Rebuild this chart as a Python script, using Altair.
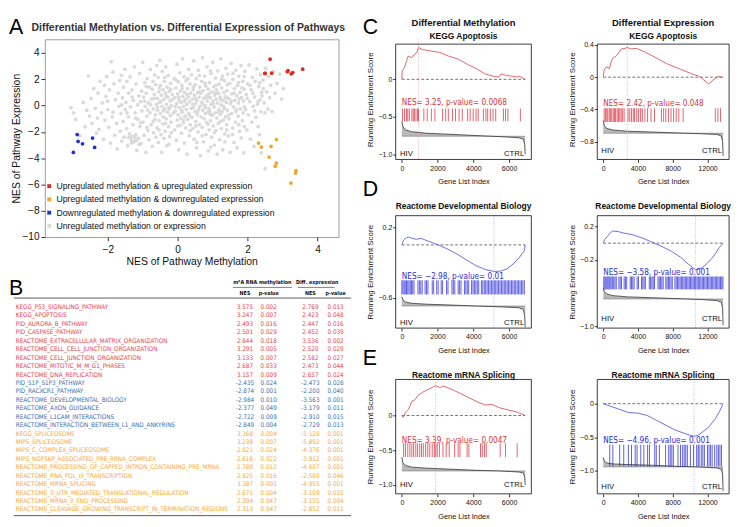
import altair as alt
import pandas as pd

FONT = "Liberation Sans"
NARROW = "Liberation Sans Narrow, DejaVu Sans Condensed, Liberation Sans"

# ---------------- Table (panel B) data ----------------
pathways = [
    "KEGG_P53_SIGNALING_PATHWAY", "KEGG_APOPTOSIS", "PID_AURORA_B_PATHWAY", "PID_CASPASE_PATHWAY",
    "REACTOME_EXTRACELLULAR_MATRIX_ORGANIZATION", "REACTOME_CELL_CELL_JUNCTION_ORGANIZATION",
    "REACTOME_CELL_JUNCTION_ORGANIZATION", "REACTOME_MITOTIC_M_M_G1_PHASES", "REACTOME_DNA_REPLICATION",
    "PID_S1P_S1P3_PATHWAY", "PID_RACXCR1_PATHWAY", "REACTOME_DEVELOPMENTAL_BIOLOGY", "REACTOME_AXON_GUIDANCE",
    "REACTOME_L1CAM_INTERACTIONS", "REACTOME_INTERACTION_BETWEEN_L1_AND_ANKYRINS",
    "KEGG_SPLICEOSOME", "MIPS_SPLICEOSOME", "MIPS_C_COMPLEX_SPLICEOSOME", "MIPS_NOP56P_ASSOCIATED_PRE_RRNA_COMPLEX",
    "REACTOME_PROCESSING_OF_CAPPED_INTRON_CONTAINING_PRE_MRNA", "REACTOME_RNA_POL_III_TRANSCRIPTION",
    "REACTOME_MRNA_SPLICING", "REACTOME_3_UTR_MEDIATED_TRANSLATIONAL_REGULATION", "REACTOME_MRNA_3_END_PROCESSING",
    "REACTOME_CLEAVAGE_GROWING_TRANSCRIPT_IN_TERMINATION_REGIONS",
]
meth_nes = [3.575, 3.247, 2.493, 2.501, 2.644, 3.291, 3.133, 2.687, 3.157,
            -2.435, -2.874, -2.984, -2.377, -2.722, -2.849,
            3.368, 3.238, 2.821, 2.616, 2.789, 2.825, 3.387, 2.671, 2.394, 2.313]
meth_p = [0.002, 0.007, 0.016, 0.029, 0.018, 0.005, 0.007, 0.033, 0.009,
          0.024, 0.001, 0.010, 0.049, 0.009, 0.004,
          0.004, 0.007, 0.024, 0.022, 0.012, 0.016, 0.005, 0.004, 0.047, 0.047]
expr_nes = [2.769, 2.423, 2.447, 2.452, 3.536, 2.520, 2.582, 2.473, 2.657,
            -2.473, -2.200, -3.563, -3.179, -2.910, -2.729,
            -5.120, -5.892, -4.376, -3.912, -4.607, -2.580, -4.955, -3.109, -3.155, -2.852]
expr_p = [0.013, 0.048, 0.016, 0.039, 0.002, 0.029, 0.027, 0.044, 0.024,
          0.028, 0.040, 0.001, 0.011, 0.015, 0.013,
          0.001, 0.001, 0.001, 0.001, 0.001, 0.046, 0.001, 0.015, 0.004, 0.011]
groups = ["up"] * 9 + ["down"] * 6 + ["mixed"] * 10

# ---------------- Scatter (panel A) gray cloud ----------------
gray_pts = [
    (-3.05, -0.15), (-2.98, -0.55), (-2.92, -1.05), (-2.80, -2.30), (-2.70, 0.25), (-2.65, -1.60),
    (-2.55, 2.25), (-2.52, -0.80), (-2.48, 0.55), (-2.45, -1.35), (-2.40, 1.30), (-2.36, -0.20), (-2.32, -2.10),
    (-2.28, 0.95), (-2.25, -1.80), (-2.22, 1.85), (-2.18, -0.55), (-2.15, 0.20), (-2.12, -2.55), (-2.10, 1.55),
    (-2.08, -1.10), (-2.05, 0.70), (-2.03, 2.20), (-2.00, -0.30), (-1.97, -1.65), (-1.95, 1.20), (-1.92, -2.85),
    (-1.90, 3.35), (-1.87, -0.85), (-1.85, 2.55), (-1.82, 1.65), (-1.80, -2.25), (-1.78, 0.45), (-1.75, -1.35),
    (-1.73, -3.30), (-1.70, 0.95), (-1.68, -0.05), (-1.66, 1.90), (-1.64, -1.95), (-1.62, -0.60), (-1.61, 2.30),
    (-1.60, -2.70), (-1.58, 0.60), (-1.56, -1.20), (-1.55, 1.40), (-1.53, -2.40), (-1.51, 2.75), (-1.50, -0.30),
    (-1.48, 0.25), (-1.46, -1.75), (-1.45, 1.85), (-1.43, -3.05), (-1.41, -0.85), (-1.40, 0.95), (-1.38, -2.15),
    (-1.36, 2.20), (-1.35, -0.10), (-1.33, -2.60), (-1.31, 1.20), (-1.30, -2.35), (-1.28, -1.45), (-1.27, 0.40),
    (-1.25, -2.75), (-1.24, 2.95), (-1.22, -0.55), (-1.20, -2.20), (-1.19, 1.65), (-1.17, -3.40), (-1.15, 0.05),
    (-1.14, -1.05), (-1.12, -2.50), (-1.11, 0.75), (-1.09, 2.45), (-1.08, -1.60), (-1.06, 0.30), (-1.05, -2.90),
    (-1.03, 1.10), (-1.02, -0.40), (-1.00, 3.30), (-0.99, -1.25), (-0.97, 0.65), (-0.96, -2.25), (-0.94, 1.75),
    (-0.93, -0.05), (-0.91, -3.55), (-0.90, 0.95), (-0.88, -0.80), (-0.87, 2.05), (-0.85, -1.90), (-0.84, 0.20),
    (-0.82, -2.60), (-0.81, 1.40), (-0.79, -0.55), (-0.78, 2.75), (-0.76, -1.45), (-0.75, 0.50), (-0.73, -3.10),
    (-0.72, 1.25), (-0.70, -0.25), (-0.69, -2.05), (-0.67, 0.85), (-0.66, 2.35), (-0.65, -1.05), (-0.64, -0.70),
    (-0.63, 1.60), (-0.62, -2.40), (-0.61, 0.10), (-0.60, 3.05), (-0.59, -1.70), (-0.58, 0.55), (-0.57, -0.35),
    (-0.56, 2.15), (-0.55, -2.80), (-0.54, 1.05), (-0.53, -1.15), (-0.52, 0.25), (-0.51, 3.45), (-0.50, -0.60),
    (-0.49, 1.55), (-0.48, -2.20), (-0.47, 0.80), (-0.46, -3.55), (-0.45, -0.05), (-0.44, 2.60), (-0.43, -1.40),
    (-0.42, 1.20), (-0.41, -0.85), (-0.40, 0.45), (-0.39, -2.50), (-0.38, 1.85), (-0.37, -0.25), (-0.36, -1.95),
    (-0.35, 0.95), (-0.34, 2.95), (-0.33, -1.00), (-0.32, 0.10), (-0.31, -3.05), (-0.30, 1.40), (-0.29, -0.50),
    (-0.28, 0.65), (-0.27, 2.30), (-0.26, -1.60), (-0.25, -0.15), (-0.24, 1.10), (-0.23, -2.35), (-0.22, 0.35),
    (-0.21, -0.75), (-0.20, 1.70), (-0.19, -1.25), (-0.18, 0.00), (-0.15, 0.85), (-0.12, -0.55), (-0.10, 2.05),
    (-0.09, -1.85), (-0.08, 0.60), (-0.07, -0.40), (-0.05, 1.35), (-0.04, -2.65), (-0.03, 0.15), (-0.02, 3.15),
    (-0.01, -1.10), (0.00, 0.90), (0.01, -0.70), (0.02, 1.80), (0.03, -3.35), (0.04, 0.40), (0.05, -0.15),
    (0.06, 2.50), (0.07, -1.50), (0.08, 1.10), (0.09, -0.95), (0.10, 0.25), (0.11, -2.10), (0.12, 1.55),
    (0.13, -0.50), (0.14, 3.55), (0.15, 0.70), (0.16, -1.30), (0.17, -0.05), (0.18, 2.20), (0.19, -2.85),
    (0.20, 1.00), (0.21, -0.80), (0.22, 0.45), (0.23, -1.70), (0.24, 1.90), (0.25, -0.30), (0.26, 0.10),
    (0.27, -3.70), (0.28, 1.30), (0.29, -1.05), (0.30, 0.65), (0.31, 2.75), (0.32, -0.60), (0.33, -2.30),
    (0.34, 0.30), (0.35, 1.65), (0.36, -1.45), (0.37, 0.95), (0.38, -0.20), (0.40, 2.35), (0.41, -0.90),
    (0.42, 0.50), (0.43, -1.75), (0.44, 1.20), (0.45, -0.15), (0.46, 3.40), (0.47, -2.55), (0.48, 0.80),
    (0.49, -0.45), (0.50, 1.60), (0.51, 0.15), (0.52, -1.20), (0.53, 2.05), (0.54, -3.20), (0.55, 0.40),
    (0.56, -0.70), (0.57, 1.00), (0.58, -2.00), (0.59, 2.70), (0.60, -0.25), (0.61, 0.65), (0.62, -1.45),
    (0.63, 1.40), (0.64, -0.05), (0.65, -3.80), (0.66, 0.95), (0.67, -0.85), (0.68, 1.85), (0.69, 0.25),
    (0.70, -1.65), (0.71, 3.65), (0.72, -0.35), (0.73, 1.15), (0.74, -2.75), (0.75, 0.55), (0.76, -1.00),
    (0.77, 2.25), (0.78, 0.00), (0.79, -0.60), (0.80, 1.50), (0.81, -2.20), (0.82, 0.75), (0.83, -1.30),
    (0.84, 2.95), (0.85, 0.35), (0.86, -0.50), (0.87, 1.25), (0.88, -3.45), (0.89, -0.20), (0.895, 0.90),
    (0.90, -1.85), (0.91, 1.75), (0.92, -0.40), (0.93, 0.60), (0.94, -1.15), (0.95, 2.45), (0.96, 0.10),
    (0.97, -2.40), (0.98, 1.05), (0.99, -0.75), (1.00, 3.30), (1.01, 0.35), (1.02, -1.55), (1.03, 1.45),
    (1.04, -0.10), (1.05, -3.00), (1.06, 0.80), (1.07, -0.55), (1.08, 2.10), (1.09, -1.90), (1.10, 0.50),
    (1.11, 1.20), (1.12, -0.95), (1.13, -3.70), (1.14, 0.20), (1.15, 2.65), (1.16, -1.35), (1.17, 0.95),
    (1.18, -0.30), (1.19, 1.65), (1.20, -2.60), (1.21, 0.65), (1.22, -0.65), (1.23, 3.55), (1.24, 0.05),
    (1.25, -1.75), (1.26, 1.35), (1.27, -0.45), (1.28, 2.25), (1.29, -3.35), (1.30, 0.40), (1.31, -1.10),
    (1.32, 1.00), (1.33, -0.20), (1.34, 1.90), (1.35, -2.15), (1.36, 0.70), (1.37, -0.85), (1.38, 2.85),
    (1.39, 0.25), (1.40, -1.45), (1.41, 1.15), (1.42, -0.35), (1.43, 2.40), (1.45, -2.30), (1.46, 0.55),
    (1.47, -1.00), (1.49, 1.70), (1.50, -3.55), (1.51, 0.15), (1.53, 3.20), (1.54, -0.60), (1.55, 0.90),
    (1.57, -1.70), (1.58, 2.00), (1.59, -0.10), (1.61, -2.80), (1.62, 1.30), (1.63, 0.40), (1.65, -1.25),
    (1.66, 2.70), (1.67, -0.45), (1.69, 0.75), (1.70, -3.20), (1.71, 1.55), (1.73, -0.80), (1.74, 0.20),
    (1.75, 2.25), (1.77, -1.95), (1.78, 1.00), (1.79, -0.25), (1.81, 3.05), (1.82, -2.45), (1.83, 0.60),
    (1.85, -1.15), (1.86, 1.85), (1.87, -0.55), (1.88, 0.35), (1.89, -3.60), (1.90, 1.25), (1.905, -1.60),
    (1.92, 2.60), (1.94, -0.30), (1.96, 0.85), (1.98, -1.85), (2.00, 1.65), (2.02, -0.70), (2.04, 3.10),
    (2.06, 0.30), (2.08, -2.55), (2.10, 1.20), (2.12, -1.25), (2.14, 2.15), (2.16, -0.05), (2.18, -3.10),
    (2.20, 0.65), (2.22, 1.85), (2.24, -0.90), (2.26, 2.80), (2.28, 0.10), (2.30, -1.60), (2.32, 1.45),
    (2.34, -2.20), (2.36, 0.45), (2.37, 2.35), (2.38, -0.45), (2.39, -3.60), (2.40, 1.00), (2.41, 0.75),
    (2.44, 1.95), (2.47, 0.20), (2.50, -0.55), (2.52, 2.85), (2.55, 1.05), (2.58, -0.25), (2.60, 2.20),
    (2.63, 0.60), (2.66, 1.55), (2.70, -0.45), (2.74, 2.60), (2.78, 0.95), (2.84, 1.70), (2.50, -4.80),
    (2.92, 2.40), (2.97, 0.50), (3.02, 1.30),
    # denser core of the cloud
    (-0.95, 0.35), (-0.86, -0.35), (-0.77, 0.05), (-0.68, 0.55), (-0.58, -0.10), (-0.49, 0.30), (-0.41, -0.40),
    (-0.33, 0.70), (-0.24, -0.25), (-0.16, 0.45), (-0.06, -0.05), (0.03, 0.65), (0.11, -0.35), (0.19, 0.35),
    (0.27, 0.85), (0.34, -0.75), (0.43, 0.10), (0.50, 0.55), (0.57, -0.45), (0.64, 1.05), (0.71, 0.15),
    (0.79, -0.15), (0.86, 0.65), (0.93, -0.65), (1.01, 0.15), (1.08, 0.95), (1.16, -0.45), (1.23, 0.45),
    (1.31, -0.05), (1.38, 0.60), (1.46, -0.70), (1.53, 0.35), (1.61, 0.95), (1.68, -0.30), (1.76, 0.50),
    (1.84, 1.35), (1.91, -0.10), (1.99, 0.55), (2.07, 1.55), (2.15, 0.95), (-0.90, 1.45), (-0.71, 1.85),
    (-0.52, 1.35), (-0.37, 2.15), (-0.20, 1.25), (-0.04, 1.95), (0.13, 1.30), (0.29, 2.05), (0.45, 1.40),
    (0.62, 2.30), (0.78, 1.70), (0.94, 2.65), (1.10, 1.55), (1.26, 2.00), (1.42, 1.60), (1.58, 2.45),
    (1.74, 1.75), (1.90, 2.20), (-1.05, -1.30), (-0.88, -1.65), (-0.70, -1.20), (-0.53, -1.85), (-0.35, -1.35),
    (-0.18, -2.05), (0.00, -1.55), (0.17, -1.10), (0.35, -1.90), (0.52, -1.55), (0.70, -2.30), (0.87, -1.40),
    (1.05, -2.05), (1.22, -1.20), (1.40, -1.85), (1.57, -2.20), (1.75, -1.45), (-1.32, -2.85), (-1.22, -2.45),
    (-1.10, -2.95), (-1.40, -2.40), (-1.18, -2.65), (-1.60, 0.05), (-1.45, -0.55), (-1.30, 0.65),
    (-1.20, -0.95), (-2.00, 0.35), (-1.85, -0.50), (-2.30, -0.95), (-2.60, -0.35), (2.20, -0.40),
    (2.30, 0.30), (2.45, 1.30), (2.35, 1.75), (0.55, -2.80), (0.95, -3.15), (1.35, -2.75), (-0.25, -2.95),
]

cat_labels = [
    "Upregulated methylation & upregulated expression",
    "Upregulated methylation & downregulated expression",
    "Downregulated methylation & downregulated expression",
    "Unregulated methylation or expression",
]
cat_colors = ["#de2a1f", "#f3a528", "#1f33cc", "#dadada"]
grp_to_cat = {"up": cat_labels[0], "mixed": cat_labels[1], "down": cat_labels[2]}

# ---------------- GSEA panels data ----------------
N_L, N_R = 6900, 13800
rank_x_left = [0, 60, 200, 550, 1400, 2800, 4100, 5500, 6550, 6800, 6870, 6900]
rank_x_right = [0, 120, 400, 1100, 2800, 5600, 8200, 11000, 13100, 13600, 13740, 13800]

cl_es_x = [0, 20, 150, 270, 350, 530, 700, 840, 930, 1140, 1575, 2100, 2620, 3150, 3670, 4200, 4640, 5070,
           5420, 5560, 5860, 6130, 6390, 6560, 6770, 6900]
cl_es_y = [0, 0.117, 0.16, 0.25, 0.31, 0.29, 0.33, 0.36, 0.425, 0.40, 0.38, 0.36, 0.31, 0.27, 0.20, 0.14, 0.074,
           0.043, 0.03, 0.074, 0.05, 0.043, 0.03, 0.043, 0.017, 0]
cl_hits = [40, 150, 260, 330, 420, 560, 640, 700, 790, 880, 930, 1230, 1420, 1650, 1850, 2280, 2450, 2600, 2830,
           3000, 3200, 3380, 3680, 3820, 3990, 4150, 4270, 4560, 4700, 4800, 4950, 5100, 5250, 5680, 5800, 5930, 6630]
cl_rank = [-0.56, -0.63, -0.675, -0.70, -0.72, -0.735, -0.75, -0.765, -0.78, -0.80, -0.87, -1.0]

cr_es_x = [0, 104, 347, 693, 1040, 1560, 2080, 2600, 2770, 3120, 3814, 4854, 5894, 7281, 8668, 10055, 11095,
           12136, 12656, 13176, 13800]
cr_es_y = [0, 0.088, 0.128, 0.108, 0.229, 0.27, 0.35, 0.36, 0.37, 0.35, 0.357, 0.31, 0.25, 0.169, 0.108, 0.048,
           0.008, -0.084, -0.032, 0.008, 0]
cr_hits = [100, 250, 400, 520, 700, 850, 980, 1150, 1300, 1420, 1600, 1750, 1900, 2050, 2200, 2400, 2850, 3050,
           3250, 3450, 3600, 3850, 4050, 4300, 4500, 4800, 5100, 5500, 5900, 6700, 6950, 7200, 7500, 7800, 8100,
           8400, 8700, 9200, 12900, 13200, 13500]
cr_rank = [-0.535, -0.60, -0.635, -0.655, -0.67, -0.68, -0.69, -0.70, -0.71, -0.73, -0.80, -0.975]

dl_es_x = [0, 87, 210, 384, 558, 820, 1082, 1344, 1693, 2042, 2565, 3089, 3613, 4136, 4660, 5150, 5532, 5881,
           6230, 6579, 6841, 6900]
dl_es_y = [0, 0.052, 0.074, 0.089, 0.074, 0.063, 0.074, 0.052, 0.026, 0, -0.048, -0.104, -0.17, -0.233, -0.278,
           -0.30, -0.296, -0.27, -0.215, -0.14, -0.067, 0]
dl_hits = [0, 60, 130, 190, 260, 330, 400, 470, 540, 610, 680, 900, 980, 1060, 1140, 1300, 1380, 1460, 1700, 1780,
           1950, 2030, 2200, 2280, 2500, 2580, 2800, 2880, 2960, 3150, 3230, 3310, 3500, 3580, 3660, 3740, 3900,
           3980, 4060, 4140, 4220, 4300, 4450, 4530, 4610, 4690, 4770, 4850, 4930, 5010, 5090, 5170, 5250, 5330,
           5410, 5490, 5570, 5650, 5730, 5810, 5890, 5970, 6050, 6130, 6210, 6290, 6370, 6450, 6530, 6610, 6690,
           6770, 6850]
dl_rank = [-0.585, -0.62, -0.645, -0.66, -0.67, -0.68, -0.69, -0.70, -0.71, -0.73, -0.80, -0.93]

dr_es_x = [0, 171, 514, 857, 1097, 1714, 2400, 3429, 4457, 5314, 5898, 6858, 7886, 8915, 9772, 10629, 11314,
           12000, 12514, 12960, 13372, 13800]
dr_es_y = [0, 0.045, 0.085, 0.13, 0.146, 0.139, 0.12, 0.10, 0.064, 0.026, 0, -0.045, -0.10, -0.17, -0.25, -0.32,
           -0.30, -0.24, -0.18, -0.12, -0.05, 0]
dr_hits = [60, 180, 300, 420, 540, 660, 780, 900, 1050, 1200, 1350, 1500, 1800, 1950, 2100, 2400, 2550, 2700,
           3100, 3250, 3400, 3550, 3900, 4050, 4400, 4550, 4700, 4850, 5300, 5450, 5600, 5750, 5900, 6300, 6450,
           6600, 6750, 6900, 7200, 7350, 7500, 7650, 7800, 7950, 8250, 8400, 8550, 8700, 8850, 9000, 9150, 9300,
           9450, 9600, 9750, 9900, 10050, 10200, 10350, 10500, 10650, 10800, 10950, 11100, 11250, 11400, 11550,
           11700, 11850, 12000, 12150, 12300, 12450, 12600, 12750, 12900, 13050, 13200, 13350, 13500, 13650, 13780]
dr_rank = [-0.535, -0.58, -0.61, -0.63, -0.645, -0.655, -0.665, -0.675, -0.69, -0.71, -0.78, -0.985]

el_es_x = [0, 80, 205, 380, 556, 732, 908, 1173, 1525, 1877, 2141, 2317, 2757, 3286, 3814, 4342, 4695, 5047,
           5400, 5752, 6104, 6456, 6900]
el_es_y = [0, -0.027, 0.049, 0.093, 0.204, 0.227, 0.293, 0.338, 0.382, 0.43, 0.404, 0.425, 0.382, 0.316, 0.249,
           0.182, 0.151, 0.16, 0.116, 0.093, 0.071, 0.049, 0]
el_hits = [100, 200, 330, 450, 560, 660, 780, 880, 1000, 1100, 1200, 1330, 1450, 1560, 1700, 1820, 1900, 1980,
           2100, 2300, 2480, 2650, 2950, 3150, 3250, 3650, 3750, 4400, 4500, 4620, 4720, 5500, 5800, 6450]
el_rank = [-0.60, -0.68, -0.72, -0.745, -0.76, -0.775, -0.79, -0.80, -0.815, -0.83, -0.89, -1.0]

er_es_x = [0, 750, 1820, 2890, 3960, 5040, 6110, 7180, 8250, 9320, 10030, 10450, 10900, 11470, 12170, 12890,
           13430, 13800]
er_es_y = [0, -0.034, -0.082, -0.13, -0.14, -0.174, -0.246, -0.318, -0.39, -0.44, -0.47, -0.485, -0.47, -0.416,
           -0.345, -0.225, -0.105, 0]
er_hits = [747, 1104, 1890, 2355, 2891, 3248, 3677, 3891, 4320, 4677, 5106, 5320, 5928, 6106, 6464, 7178, 7536,
           7714, 7893, 8072, 8608, 8894, 9144, 9323, 9502, 9680, 10038, 10395, 10752, 10931, 11038, 11288, 11467,
           11646, 12003, 12182, 12361, 12540, 12826, 13076, 13255, 13434, 13612]
er_rank = [-0.80, -0.855, -0.88, -0.895, -0.905, -0.915, -0.93, -0.94, -0.955, -0.975, -1.05, -1.30]

RED_LINE, RED_HIT, RED_PEAK = "#e0525a", "#d8323f", "#f2a9b0"
BLUE_LINE, BLUE_HIT, BLUE_PEAK = "#5b5be3", "#2a2ad8", "#b0b0f0"


def txt(s, x, y, size, weight="normal", align="center", font=FONT, color="#111"):
    return alt.Chart(pd.DataFrame({"t": [s]})).mark_text(
        fontSize=size, fontWeight=weight, font=font, align=align, baseline="middle", color=color
    ).encode(text="t:N", x=alt.value(x), y=alt.value(y))


def gsea(titles, N, width, xdom, xticks, es_x, es_y, peak, hits, hit_rng, rank_x, rank_y, base,
         frame_y, ydom, yticks, nes_text, nes_y, lab_y, up, height):
    line_c = RED_LINE if up else BLUE_LINE
    hit_c = RED_HIT if up else BLUE_HIT
    peak_c = RED_PEAK if up else BLUE_PEAK
    xs = alt.Scale(domain=xdom, nice=False, zero=False)
    ys = alt.Scale(domain=ydom, nice=False, zero=False)
    xax = alt.Axis(values=xticks, format="d", title="Gene List Index", grid=False, domain=False, tickSize=3,
                   labelFontSize=7.2, titleFontSize=7.6, titleFontWeight="normal", labelPadding=2,
                   titlePadding=7, labelFlush=False, labelOverlap=False, minExtent=0, zindex=2)
    yax = alt.Axis(values=yticks, labelExpr="datum.value == 0 ? '0' : format(datum.value, '.1f')",
                   title="Running Enrichment Score", grid=False, domain=False, tickSize=3, labelFontSize=7.2,
                   titleFontSize=8.2, titleFontWeight="normal", labelPadding=1, titlePadding=3.5,
                   labelOverlap=False, labelBound=False, minExtent=0, zindex=2)

    def X(f):
        return alt.X(f, scale=xs, axis=xax, title="Gene List Index")

    def Y(f):
        return alt.Y(f, scale=ys, axis=yax, title="Running Enrichment Score")

    es_df = pd.DataFrame({"idx": es_x, "es": es_y})
    rk_df = pd.DataFrame({"rx": rank_x, "ry": rank_y})
    L = []
    L.append(alt.Chart(rk_df).mark_area(color="#b9b9b9").encode(x=X("rx:Q"), y=Y("ry:Q"), y2=alt.datum(base)))
    L.append(alt.Chart(pd.DataFrame({"a": [0], "b": [N], "z": [base]})).mark_rule(
        color="#777", strokeWidth=0.6).encode(x=X("a:Q"), x2="b:Q", y=Y("z:Q")))
    L.append(alt.Chart(rk_df).mark_line(color="#333", strokeWidth=0.8).encode(x=X("rx:Q"), y=Y("ry:Q")))
    L.append(alt.Chart(pd.DataFrame({"p": [peak]})).mark_rule(
        color=peak_c, strokeDash=[1, 1.5], strokeWidth=0.9).encode(x=X("p:Q")))
    L.append(alt.Chart(pd.DataFrame({"a": [0], "b": [N], "z": [0]})).mark_rule(
        color="#333", strokeDash=[3, 2], strokeWidth=0.7).encode(x=X("a:Q"), x2="b:Q", y=Y("z:Q")))
    L.append(alt.Chart(pd.DataFrame({"h": hits})).mark_rule(
        color=hit_c, strokeWidth=0.9, opacity=0.85).encode(
        x=X("h:Q"), y=alt.datum(hit_rng[0]), y2=alt.datum(hit_rng[1])))
    L.append(alt.Chart(es_df).mark_line(color=line_c, strokeWidth=0.9).encode(x=X("idx:Q"), y=Y("es:Q")))
    L.append(alt.Chart(pd.DataFrame({"x": [0], "y": [nes_y], "t": [nes_text]})).mark_text(
        align="left", baseline="middle", color=hit_c, fontSize=8.4, font=NARROW).encode(
        x=X("x:Q"), y=Y("y:Q"), text="t:N"))
    L.append(alt.Chart(pd.DataFrame({"x": [0], "y": [lab_y], "t": ["HIV"]})).mark_text(
        align="left", baseline="middle", color="#111", fontSize=8, font=FONT, dx=-2).encode(
        x=X("x:Q"), y=Y("y:Q"), text="t:N"))
    L.append(alt.Chart(pd.DataFrame({"x": [N], "y": [lab_y], "t": ["CTRL"]})).mark_text(
        align="right", baseline="middle", color="#111", fontSize=8, font=FONT, dx=-1).encode(
        x=X("x:Q"), y=Y("y:Q"), text="t:N"))
    # panel frame
    L.append(alt.Chart(pd.DataFrame({"x1": [xdom[0]], "x2": [xdom[1]], "y1": [frame_y[0]], "y2": [frame_y[1]]}))
             .mark_rect(fillOpacity=0, stroke="#222", strokeWidth=0.9).encode(
        x=X("x1:Q"), x2="x2:Q", y=Y("y1:Q"), y2="y2:Q"))
    for (s, yy, fs) in titles:
        L.append(txt(s, width / 2, yy, fs, weight="bold"))
    return alt.layer(*L).properties(width=width, height=height,
                                    view=alt.ViewBackground(stroke="transparent"))


WL, WR = 140, 136
XL = [-345, 7245]
XR = [-690, 14490]
TL = [0, 2000, 4000, 6000]
TR = [0, 4000, 8000, 12000]

c1 = gsea([("Differential Methylation", -17, 9.7), ("KEGG Apoptosis", -3.5, 8.7)], N_L, WL, XL, TL,
          cl_es_x, cl_es_y, 930, cl_hits, [-0.39, -0.56], rank_x_left, cl_rank, -0.76,
          [-1.07, 0.47], [-1.07, 0.535], [0, -0.5, -1.0],
          "NES= 3.25, p-value= 0.0068", -0.31, -1.0, True, 124)
c2 = gsea([("Differential Expression", -17, 9.7), ("KEGG Apoptosis", -3.5, 8.7)], N_R, WR, XR, TR,
          cr_es_x, cr_es_y, 2770, cr_hits, [-0.385, -0.555], rank_x_right, cr_rank, -0.695,
          [-1.02, 0.41], [-1.02, 0.47], [0.4, 0, -0.4, -0.8],
          "NES= 2.42, p-value= 0.048", -0.32, -0.92, True, 124)
d1 = gsea([("Reactome Developmental Biology", -10, 8.7)], N_L, WL, XL, TL,
          dl_es_x, dl_es_y, 5150, dl_hits, [-0.40, -0.56], rank_x_left, dl_rank, -0.69,
          [-0.94, 0.33], [-0.94, 0.33], [0.2, 0, -0.2, -0.6],
          "NES= \u22122.98, p-value= 0.01", -0.356, -0.88, False, 116)
d2 = gsea([("Reactome Developmental Biology", -10, 8.7)], N_R, WR, XR, TR,
          dr_es_x, dr_es_y, 10629, dr_hits, [-0.40, -0.555], rank_x_right, dr_rank, -0.67,
          [-1.02, 0.33], [-1.02, 0.33], [0.2, 0, -0.2, -0.6, -1.0],
          "NES= \u22123.58, p-value= 0.001", -0.35, -0.91, False, 116)
e1 = gsea([("Reactome mRNA Splicing", -5, 8.7)], N_L, WL, XL, TL,
          el_es_x, el_es_y, 1880, el_hits, [-0.40, -0.60], rank_x_left, el_rank, -0.80,
          [-1.13, 0.52], [-1.13, 0.52], [0, -0.5, -1.0],
          "NES= 3.39, p-value= 0.0047", -0.36, -1.01, True, 118)
e2 = gsea([("Reactome mRNA Splicing", -5, 8.7)], N_R, WR, XR, TR,
          er_es_x, er_es_y, 10450, er_hits, [-0.61, -0.93], rank_x_right, er_rank, -0.94,
          [-1.34, 0.36], [-1.34, 0.36], [0, -0.5, -1.0],
          "NES= \u22124.96, p-value= 0.001", -0.545, -1.24, False, 118)

# ---------------- Scatter panel A ----------------
gx = [p[0] for p in gray_pts]
gy = [p[1] for p in gray_pts]
sdf = pd.DataFrame({
    "x": gx + meth_nes,
    "y": gy + expr_nes,
    "cat": [cat_labels[3]] * len(gx) + [grp_to_cat[g] for g in groups],
})
scatter_pts = alt.Chart(sdf).mark_circle(size=15, opacity=1).encode(
    x=alt.X("x:Q", scale=alt.Scale(domain=[-3.8, 4.6], nice=False, zero=False),
            axis=alt.Axis(values=[-2, 0, 2, 4], title="NES of Pathway Methylation", grid=False, domain=False,
                          tickSize=4, labelFontSize=10.4, titleFontSize=10.7, titleFontWeight="normal",
                          titlePadding=2.7, labelPadding=3.5, labelOverlap=False, minExtent=0)),
    y=alt.Y("y:Q", scale=alt.Scale(domain=[-10, 5.05], nice=False, zero=False),
            axis=alt.Axis(values=[-10, -8, -6, -4, -2, 0, 2, 4], title="NES of Pathway Expression", grid=False,
                          domain=False, tickSize=4, labelFontSize=10.4, titleFontSize=10.7,
                          titleFontWeight="normal", titlePadding=1, labelPadding=2, labelOverlap=False,
                          minExtent=0)),
    color=alt.Color("cat:N", scale=alt.Scale(domain=cat_labels, range=cat_colors),
                    legend=alt.Legend(orient="none", legendX=0, legendY=147, title=None, symbolType="square",
                                      symbolSize=16, labelFontSize=9, labelFont=FONT, rowPadding=3.7,
                                      labelColor="#111", symbolStrokeWidth=0, labelOffset=3, labelLimit=400)),
)
LETTER_X = 328  # panel letters C, D, E sit just left of the right-hand column
scatter = alt.layer(
    scatter_pts,
    txt("A", -37, -12, 22, align="left", color="#000"),
    txt("C", LETTER_X, -12, 22, align="left", color="#000"),
    txt("D", LETTER_X, 155, 22, align="left", color="#000"),
    txt("Differential Methylation vs. Differential Expression of Pathways", 148, -12, 10.8, weight="bold",
        color="#333"),
).properties(width=303, height=204, view=alt.ViewBackground(stroke="#9b9b9b", strokeWidth=1))

# ---------------- Table panel B ----------------
col_map = {"up": "#e8414e", "down": "#3a6db0", "mixed": "#f6a83a"}
tdf = pd.DataFrame({
    "row": list(range(len(pathways))),
    "name": pathways,
    "mn": [f"{v:.3f}" for v in meth_nes],
    "mp": [f"{v:.3f}" for v in meth_p],
    "en": [f"{v:.3f}" for v in expr_nes],
    "ep": [f"{v:.3f}" for v in expr_p],
    "grp": groups,
})
TH = 8.7 * len(pathways)
yrow = alt.Y("row:O", axis=None, scale=alt.Scale(type="point", padding=0.5))
tcolor = alt.Color("grp:N", scale=alt.Scale(domain=["up", "down", "mixed"],
                                            range=[col_map["up"], col_map["down"], col_map["mixed"]]),
                   legend=None)
tbase = alt.Chart(tdf)
t_layers = [
    tbase.mark_text(align="left", baseline="middle", font=NARROW, fontSize=6.5).encode(
        x=alt.value(-30), y=yrow, text="name:N", color=tcolor)
]
COLX = [206.5, 231, 274, 300]
for fld, px in zip(["mn", "mp", "en", "ep"], COLX):
    t_layers.append(tbase.mark_text(align="center", baseline="middle", font=NARROW, fontSize=6.5).encode(
        x=alt.value(px), y=yrow, text=f"{fld}:N", color=tcolor))

t_layers.append(txt("m\u2076A RNA methylation", 224.5, -21, 5.5, weight="bold", font=NARROW))
t_layers.append(txt("Diff. expression", 281, -21, 5.5, weight="bold", font=NARROW))
for px, lab in zip(COLX, ["NES", "p-value", "NES", "p-value"]):
    t_layers.append(txt(lab, px, -10.3, 5.5, weight="bold", font=NARROW))
for x1, x2, yv, w in [(194, 255, -16, 0.7), (261, 299, -16, 0.7), (-32, 316, -5, 0.9), (-32, 316, TH + 2, 0.9)]:
    t_layers.append(alt.Chart(pd.DataFrame({"k": [0]})).mark_rule(color="#444", strokeWidth=w).encode(
        x=alt.value(x1), x2=alt.value(x2), y=alt.value(yv)))
t_layers.append(txt("B", -37, -15.5, 22, align="left", color="#000"))
t_layers.append(txt("E", LETTER_X, 57, 22, align="left", color="#000"))
table = alt.layer(*t_layers).properties(width=303, height=TH, view=alt.ViewBackground(stroke="transparent"))

left = alt.vconcat(scatter, table, spacing=10).resolve_scale(color="independent")
right = alt.concat(c1, c2, d1, d2, e1, e2, columns=2, spacing={"row": 15, "column": 35})

chart = alt.hconcat(left, right, spacing=-15).resolve_scale(color="independent").properties(
    padding=0).configure_axis(
    labelFont=FONT, titleFont=FONT, labelColor="#111", titleColor="#111", tickColor="#333"
).configure_text(font=FONT)

chart.save("out.html", embed_options={"renderer": "svg", "actions": False})
